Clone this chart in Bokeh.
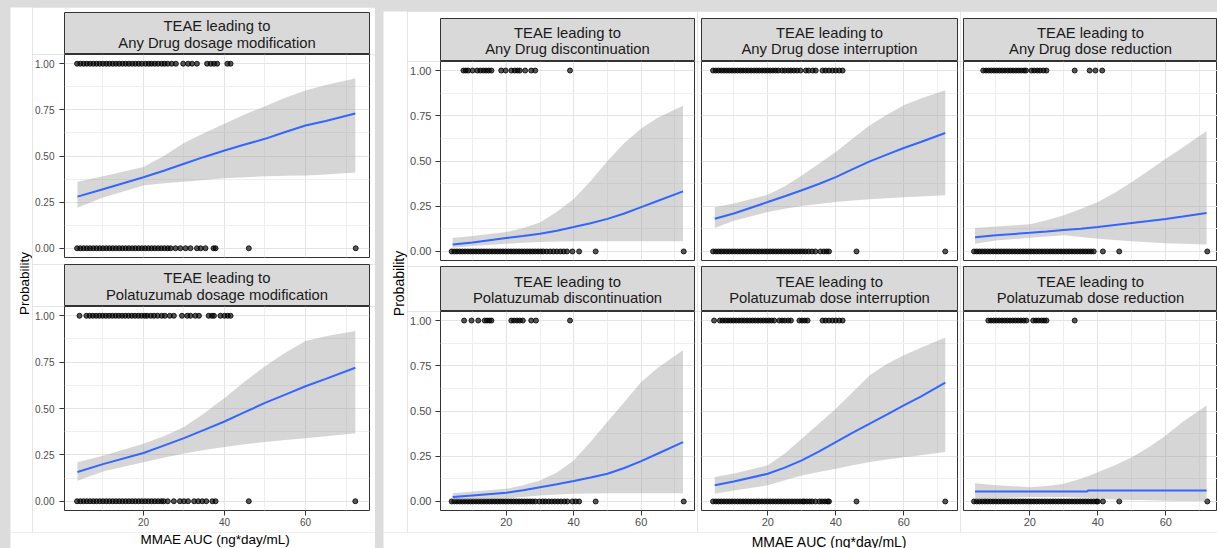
import math
from bokeh.plotting import figure
from bokeh.layouts import row, column
from bokeh.models import Range1d, FixedTicker, NumeralTickFormatter, Label, Spacer
from bokeh.embed import file_html
from bokeh.resources import INLINE

# ---------------- data ----------------
x_ticks = [20, 40, 60]
x_minor = [10, 30, 50, 70]
y_ticks = [0, 0.25, 0.5, 0.75, 1.0]
y_minor = [0.125, 0.375, 0.625, 0.875]
x_title = "MMAE AUC (ng*day/mL)"
y_title = "Probability"

# Any Drug dosage modification
any_mod_x = [3.7, 10, 20, 25, 30, 35, 40, 45, 50, 55, 60, 65, 72.3]
any_mod_fit = [0.28, 0.32, 0.385, 0.42, 0.458, 0.495, 0.53, 0.562, 0.593, 0.63, 0.665, 0.69, 0.73]
any_mod_lo = [0.22, 0.275, 0.34, 0.352, 0.36, 0.37, 0.38, 0.385, 0.39, 0.393, 0.395, 0.40, 0.41]
any_mod_hi = [0.36, 0.39, 0.44, 0.50, 0.57, 0.625, 0.675, 0.725, 0.77, 0.815, 0.855, 0.885, 0.92]
any_mod_ev = [3.6, 4.4, 5.2, 6.0, 6.8, 7.6, 8.4, 9.2, 10.0, 10.8, 11.6, 12.4, 13.2, 14.0, 14.8, 15.6, 16.4, 17.2,
              18.0, 18.8, 19.6, 20.5, 21.3, 22.0, 22.8, 23.6, 24.5, 25.2, 26.0, 27.0, 28.0, 29.8, 31.0, 32.0, 33.2,
              35.7, 36.6, 37.4, 38.2, 40.7, 41.5]
any_mod_nev = [3.6, 4.4, 5.2, 6.0, 6.8, 7.6, 8.4, 9.2, 10.0, 10.8, 11.6, 12.4, 13.2, 14.0, 14.8, 15.6, 16.4, 17.2,
               18.0, 18.8, 19.6, 20.4, 21.2, 22.0, 22.8, 23.6, 24.4, 25.2, 26.0, 26.7, 27.9, 29.1, 30.4, 31.6, 33.2,
               34.1, 35.3, 37.3, 37.8, 46.0, 72.4]

# Polatuzumab dosage modification
pola_mod_x = [3.7, 10, 20, 25, 30, 35, 40, 45, 50, 55, 60, 65, 72.3]
pola_mod_fit = [0.158, 0.20, 0.26, 0.30, 0.34, 0.385, 0.43, 0.48, 0.53, 0.575, 0.62, 0.66, 0.72]
pola_mod_lo = [0.11, 0.16, 0.21, 0.235, 0.257, 0.276, 0.293, 0.307, 0.32, 0.33, 0.339, 0.35, 0.366]
pola_mod_hi = [0.21, 0.245, 0.31, 0.35, 0.40, 0.475, 0.556, 0.645, 0.728, 0.80, 0.864, 0.89, 0.918]
pola_mod_ev = [4.2, 5.9, 6.7, 7.5, 8.3, 9.1, 9.9, 10.7, 11.5, 12.3, 13.1, 13.9, 14.7, 15.5, 16.3, 17.1, 17.9, 18.7,
               19.5, 20.3, 20.9, 21.8, 22.6, 23.5, 24.5, 25.3, 26.5, 27.5, 29.5, 30.8, 31.6, 32.8, 33.7, 36.1, 36.9,
               37.4, 39.0, 40.0, 40.8, 41.5]
pola_mod_nev = [3.6, 4.4, 5.2, 6.0, 6.8, 7.6, 8.4, 9.2, 10.0, 10.8, 11.6, 12.4, 13.2, 14.0, 14.8, 15.6, 16.4, 17.2,
                18.0, 18.8, 19.6, 20.4, 21.2, 22.0, 22.8, 23.6, 24.4, 25.0, 26.0, 27.5, 29.0, 30.0, 31.0, 32.5, 33.5,
                34.5, 35.5, 37.0, 37.8, 46.0, 72.3]

# Any Drug discontinuation
any_disc_x = [4.1, 10, 20, 25, 30, 35, 40, 45, 50, 55, 60, 65, 72.4]
any_disc_fit = [0.039, 0.05, 0.074, 0.085, 0.098, 0.115, 0.135, 0.156, 0.18, 0.21, 0.245, 0.28, 0.332]
any_disc_lo = [0.02, 0.03, 0.042, 0.048, 0.052, 0.055, 0.057, 0.057, 0.057, 0.057, 0.057, 0.057, 0.057]
any_disc_hi = [0.074, 0.085, 0.107, 0.13, 0.16, 0.22, 0.29, 0.39, 0.50, 0.60, 0.68, 0.74, 0.806]
any_disc_ev = [7.3, 8.0, 8.7, 10.0, 11.4, 12.3, 13.2, 14.0, 14.8, 15.6, 18.5, 19.8, 21.5, 22.5, 23.3, 24.0, 25.6,
               27.4, 28.6, 38.9]
any_disc_nev = [3.8, 4.6, 5.4, 6.2, 7.0, 7.8, 8.6, 9.4, 10.2, 11.0, 11.8, 12.6, 13.4, 14.2, 15.0, 15.8, 16.6, 17.4,
                18.2, 19.0, 19.8, 20.6, 21.4, 22.2, 23.0, 23.8, 24.6, 25.4, 26.2, 27.0, 27.8, 28.6, 29.4, 30.2, 31.0,
                32.0, 33.0, 34.0, 35.0, 36.0, 37.0, 38.0, 39.6, 41.6, 46.5, 72.6]

# Polatuzumab discontinuation
pola_disc_x = [4.1, 10, 20, 25, 30, 35, 40, 45, 50, 55, 60, 65, 72.4]
pola_disc_fit = [0.024, 0.033, 0.048, 0.062, 0.079, 0.095, 0.113, 0.132, 0.153, 0.185, 0.223, 0.265, 0.328]
pola_disc_lo = [0.006, 0.01, 0.015, 0.024, 0.033, 0.038, 0.042, 0.044, 0.046, 0.046, 0.046, 0.046, 0.046]
pola_disc_hi = [0.046, 0.055, 0.07, 0.09, 0.116, 0.16, 0.227, 0.33, 0.44, 0.55, 0.66, 0.74, 0.836]
pola_disc_ev = [7.5, 9.7, 11.7, 13.6, 14.3, 15.0, 15.6, 21.5, 22.3, 23.2, 24.0, 24.9, 27.4, 28.8, 38.9]
pola_disc_nev = [3.8, 4.6, 5.4, 6.2, 7.0, 7.8, 8.6, 9.4, 10.2, 11.0, 11.8, 12.6, 13.4, 14.2, 15.0, 15.8, 16.6, 17.4,
                 18.2, 19.0, 19.8, 20.6, 21.4, 22.2, 23.0, 23.8, 24.6, 25.4, 26.2, 27.0, 27.8, 28.6, 29.8, 30.8,
                 31.6, 32.6, 33.5, 34.4, 35.3, 36.2, 37.2, 38.1, 39.6, 40.6, 41.6, 46.5, 72.6]

# Any Drug dose interruption
any_int_x = [4.4, 10, 20, 25, 30, 35, 40, 45, 50, 55, 60, 65, 72.2]
any_int_fit = [0.181, 0.21, 0.273, 0.305, 0.338, 0.373, 0.411, 0.455, 0.498, 0.535, 0.572, 0.605, 0.655]
any_int_lo = [0.129, 0.17, 0.218, 0.236, 0.251, 0.263, 0.273, 0.281, 0.288, 0.294, 0.30, 0.304, 0.31]
any_int_hi = [0.245, 0.265, 0.314, 0.36, 0.42, 0.485, 0.55, 0.625, 0.697, 0.755, 0.808, 0.845, 0.891]
any_int_ev = [3.9, 4.7, 5.5, 6.3, 7.1, 7.9, 8.7, 9.5, 10.3, 11.1, 11.9, 12.7, 13.5, 14.3, 15.1, 15.9, 16.7, 17.5,
              18.3, 19.1, 19.9, 20.7, 21.5, 22.3, 23.1, 24.2, 25.0, 26.0, 26.8, 27.7, 28.6, 29.6, 31.2, 32.0, 33.2,
              34.1, 36.1, 37.0, 38.0, 39.0, 40.0, 41.0, 42.0]
any_int_nev = [3.9, 4.7, 5.5, 6.3, 7.1, 7.9, 8.7, 9.5, 10.3, 11.1, 11.9, 12.7, 13.5, 14.3, 15.1, 15.9, 16.7, 17.5,
               18.3, 19.1, 19.9, 20.7, 21.5, 22.3, 23.1, 23.9, 24.7, 25.5, 26.3, 27.1, 27.9, 28.7, 29.5, 30.3, 31.1,
               32.0, 33.0, 34.0, 35.5, 36.5, 37.3, 38.0, 46.1, 72.2]

# Polatuzumab dose interruption
pola_int_x = [4.4, 10, 20, 25, 30, 35, 40, 45, 50, 55, 60, 65, 72.2]
pola_int_fit = [0.089, 0.11, 0.153, 0.187, 0.227, 0.275, 0.328, 0.38, 0.43, 0.48, 0.531, 0.58, 0.657]
pola_int_lo = [0.042, 0.06, 0.089, 0.117, 0.144, 0.163, 0.181, 0.2, 0.218, 0.232, 0.245, 0.256, 0.273]
pola_int_hi = [0.135, 0.155, 0.2, 0.265, 0.347, 0.43, 0.513, 0.605, 0.697, 0.76, 0.808, 0.85, 0.906]
pola_int_ev = [4.2, 5.9, 6.7, 7.5, 8.3, 9.1, 9.9, 10.7, 11.5, 12.3, 13.1, 13.9, 14.7, 15.5, 16.3, 17.1, 17.9, 18.7,
               19.5, 20.3, 21.1, 21.9, 23.4, 24.2, 25.0, 26.0, 26.8, 29.3, 30.1, 30.9, 31.7, 36.1, 37.0, 38.0, 39.0,
               40.0, 41.0, 42.0]
pola_int_nev = [3.9, 4.7, 5.5, 6.3, 7.1, 7.9, 8.7, 9.5, 10.3, 11.1, 11.9, 12.7, 13.5, 14.3, 15.1, 15.9, 16.7, 17.5,
                18.3, 19.1, 19.9, 20.7, 21.5, 22.3, 23.1, 23.9, 24.7, 25.5, 26.3, 27.1, 27.9, 28.7, 29.5, 30.3, 30.7,
                31.5, 32.3, 33.0, 34.0, 35.2, 36.0, 36.8, 37.6, 38.0, 46.1, 72.2]

# Any Drug dose reduction
any_red_x = [3.9, 10, 20, 25, 30, 35, 40, 45, 50, 55, 60, 65, 72.0]
any_red_fit = [0.079, 0.09, 0.103, 0.11, 0.118, 0.126, 0.135, 0.146, 0.157, 0.168, 0.18, 0.193, 0.212]
any_red_lo = [0.042, 0.06, 0.076, 0.083, 0.089, 0.08, 0.07, 0.063, 0.057, 0.051, 0.046, 0.043, 0.039]
any_red_hi = [0.129, 0.138, 0.15, 0.172, 0.2, 0.235, 0.273, 0.325, 0.384, 0.447, 0.513, 0.575, 0.666]
any_red_ev = [6.3, 7.1, 7.9, 8.7, 9.5, 10.3, 11.1, 11.9, 12.7, 13.5, 14.3, 15.1, 15.9, 16.7, 17.5, 18.3, 18.9,
              20.5, 21.3, 22.2, 23.0, 24.0, 24.9, 33.2, 37.6, 39.3, 41.3]
any_red_nev = [3.6, 4.4, 5.2, 6.0, 6.8, 7.6, 8.4, 9.2, 10.0, 10.8, 11.6, 12.4, 13.2, 14.0, 14.8, 15.6, 16.4, 17.2,
               18.0, 18.8, 19.6, 20.4, 21.2, 22.0, 22.8, 23.6, 24.4, 25.2, 26.0, 26.8, 27.6, 28.4, 29.2, 30.0, 30.8,
               31.6, 32.4, 33.2, 34.0, 34.8, 35.6, 36.4, 37.2, 38.0, 38.8, 41.5, 46.3, 72.2]

# Polatuzumab dose reduction
pola_red_x = [3.9, 10, 20, 25, 30, 35, 36.9, 37.1, 40, 45, 50, 55, 60, 65, 72.0]
pola_red_fit = [0.055, 0.055, 0.055, 0.055, 0.055, 0.055, 0.055, 0.061, 0.061, 0.061, 0.061, 0.061, 0.061,
                0.061, 0.061]
pola_red_lo = [0.009, 0.018, 0.024, 0.024, 0.024, 0.021, 0.02, 0.02, 0.015, 0.011, 0.008, 0.006, 0.004,
               0.003, 0.002]
pola_red_hi = [0.10, 0.09, 0.079, 0.085, 0.098, 0.125, 0.14, 0.14, 0.162, 0.2, 0.245, 0.3, 0.365, 0.44, 0.53]
pola_red_ev = [7.8, 8.6, 9.4, 10.2, 11.0, 11.8, 12.6, 13.4, 14.2, 15.0, 15.8, 16.6, 17.4, 18.2, 19.0, 21.0, 21.8,
               22.6, 23.5, 24.2, 24.9, 33.2]
pola_red_nev = [3.6, 4.4, 5.2, 6.0, 6.8, 7.6, 8.4, 9.2, 10.0, 10.8, 11.6, 12.4, 13.2, 14.0, 14.8, 15.6, 16.4, 17.2,
                18.0, 18.8, 19.6, 20.4, 21.2, 22.0, 22.8, 23.6, 24.4, 25.2, 26.0, 26.8, 27.6, 28.4, 29.2, 30.0, 30.8,
                31.6, 32.4, 33.2, 34.0, 34.8, 35.6, 36.4, 37.2, 38.0, 38.8, 39.6, 40.0, 41.5, 46.3, 72.2]

# ---------------- styling ----------------
FONT = "Liberation Sans"
PAGE_BG = "#dcdcdc"
STRIP_BG = "#d9d9d9"
BORDER = "#333333"
STRIP_FS = "14.8px"


def base_fig(width, height, left, right, top, bottom, xr, yr):
    p = figure(width=width, height=height, x_range=xr, y_range=yr,
               min_border_left=left, min_border_right=right,
               min_border_top=top, min_border_bottom=bottom,
               output_backend="svg", toolbar_location=None)
    p.border_fill_color = "white"
    return p


def make_strip(width, height, left, right, top, lines):
    fh = height - top
    p = base_fig(width, height, left, right, top, 0, Range1d(0, 1), Range1d(0, fh))
    p.xaxis.visible = False
    p.yaxis.visible = False
    p.xgrid.visible = False
    p.ygrid.visible = False
    p.background_fill_color = STRIP_BG
    p.outline_line_color = BORDER
    p.outline_line_width = 1
    for txt, yy in ((lines[0], fh / 2 + 7.5), (lines[1], fh / 2 - 9.0)):
        p.add_layout(Label(x=0.5, y=yy, text=txt, text_align="center",
                           text_baseline="middle", text_font=FONT,
                           text_font_size=STRIP_FS, text_color="#1a1a1a"))
    return p


def make_plot(width, height, left, right, top, bottom, xend, data, show_x, show_y, tick_fs, ystand):
    xs, fit, lo, hi, ev, nev = data
    p = base_fig(width, height, left, right, top, bottom, Range1d(0.5, xend), Range1d(-0.05, 1.05))
    p.background_fill_color = "white"
    p.outline_line_color = BORDER
    p.outline_line_width = 1
    xt = FixedTicker(ticks=x_ticks, minor_ticks=x_minor)
    yt = FixedTicker(ticks=y_ticks, minor_ticks=y_minor)
    p.xaxis.ticker = xt
    p.yaxis.ticker = yt
    p.xgrid.ticker = xt
    p.ygrid.ticker = yt
    for g in (p.xgrid, p.ygrid):
        g.grid_line_color = "#e4e4e4"
        g.grid_line_width = 1
        g.minor_grid_line_color = "#efefef"
        g.minor_grid_line_width = 1
    for ax in (p.xaxis, p.yaxis):
        ax.axis_line_color = None
        ax.major_tick_line_color = BORDER
        ax.major_tick_out = 5
        ax.major_tick_in = 0
        ax.minor_tick_line_color = None
        ax.major_label_text_font = FONT
        ax.major_label_text_font_size = tick_fs
        ax.major_label_text_color = "#4d4d4d"
    p.xaxis.major_label_standoff = 2
    p.yaxis.major_label_standoff = ystand
    p.yaxis.formatter = NumeralTickFormatter(format="0.00")
    p.xaxis.visible = show_x
    p.yaxis.visible = show_y

    p.scatter(nev, [0] * len(nev), size=5, fill_color="black", fill_alpha=0.65,
              line_color="black", line_alpha=0.9, line_width=0.9)
    p.scatter(ev, [1] * len(ev), size=5, fill_color="black", fill_alpha=0.65,
              line_color="black", line_alpha=0.9, line_width=0.9)
    p.varea(x=xs, y1=lo, y2=hi, fill_color="#999999", fill_alpha=0.4)
    p.line(xs, fit, line_color="#3366FF", line_width=2)
    return p


def make_text_fig(width, height, x, y, text, fs, angle=0.0):
    p = base_fig(width, height, 0, 0, 0, 0, Range1d(0, width), Range1d(0, height))
    p.xaxis.visible = False
    p.yaxis.visible = False
    p.xgrid.visible = False
    p.ygrid.visible = False
    p.outline_line_color = None
    p.background_fill_color = "white"
    p.add_layout(Label(x=x, y=y, text=text, angle=angle, text_align="center",
                       text_baseline="middle", text_font=FONT, text_font_size=fs,
                       text_color="black"))
    return p


# ---------------- left panel (x 10..375) ----------------
LW, LL, LR = 343, 31, 6
l_strip1 = make_strip(LW, 47, LL, LR, 5, ["TEAE leading to", "Any Drug dosage modification"])
l_plot1 = make_plot(LW, 210, LL, LR, 0, 7, 75.8,
                    (any_mod_x, any_mod_fit, any_mod_lo, any_mod_hi, any_mod_ev, any_mod_nev),
                    False, True, "10px", 5)
l_strip2 = make_strip(LW, 42, LL, LR, 0, ["TEAE leading to", "Polatuzumab dosage modification"])
l_plot2 = make_plot(LW, 226, LL, LR, 0, 22, 75.8,
                    (pola_mod_x, pola_mod_fit, pola_mod_lo, pola_mod_hi, pola_mod_ev, pola_mod_nev),
                    True, True, "10px", 5)
l_ylab = make_text_fig(22, 525, 14, 249, y_title, "13.5px", angle=math.pi / 2)
l_xlab = make_text_fig(365, 16, 205, 9, x_title, "13.5px")
left_panel = column(Spacer(width=365, height=7),
                    row(l_ylab, column(l_strip1, l_plot1, l_strip2, l_plot2)),
                    l_xlab)

# ---------------- right panel (x 383..1217) ----------------
cols_spec = [
    (290, 31, 3, 75.8, True,
     ["TEAE leading to", "Any Drug discontinuation"],
     (any_disc_x, any_disc_fit, any_disc_lo, any_disc_hi, any_disc_ev, any_disc_nev),
     ["TEAE leading to", "Polatuzumab discontinuation"],
     (pola_disc_x, pola_disc_fit, pola_disc_lo, pola_disc_hi, pola_disc_ev, pola_disc_nev)),
    (263, 4, 3, 75.8, False,
     ["TEAE leading to", "Any Drug dose interruption"],
     (any_int_x, any_int_fit, any_int_lo, any_int_hi, any_int_ev, any_int_nev),
     ["TEAE leading to", "Polatuzumab dose interruption"],
     (pola_int_x, pola_int_fit, pola_int_lo, pola_int_hi, pola_int_ev, pola_int_nev)),
    (257, 3, 0, 75.2, False,
     ["TEAE leading to", "Any Drug dose reduction"],
     (any_red_x, any_red_fit, any_red_lo, any_red_hi, any_red_ev, any_red_nev),
     ["TEAE leading to", "Polatuzumab dose reduction"],
     (pola_red_x, pola_red_fit, pola_red_lo, pola_red_hi, pola_red_ev, pola_red_nev)),
]
right_cols = []
for (w, bl, br, xend, showy, t1, d1, t2, d2) in cols_spec:
    s1 = make_strip(w, 50, bl, br, 7, t1)
    p1 = make_plot(w, 205, bl, br, 0, 6, xend, d1, False, showy, "11px", 4)
    s2 = make_strip(w, 45, bl, br, 0, t2)
    p2 = make_plot(w, 221, bl, br, 0, 22, xend, d2, True, showy, "11px", 4)
    right_cols.append(column(s1, p1, s2, p2))

r_ylab = make_text_fig(24, 521, 15, 249, y_title, "14px", angle=math.pi / 2)
r_xlab = make_text_fig(834, 16, 446, 7, x_title, "14px")
right_panel = column(Spacer(width=834, height=11), row(r_ylab, *right_cols), r_xlab)

root = row(Spacer(width=10, height=548), left_panel, Spacer(width=8, height=548), right_panel,
           styles={"background-color": PAGE_BG})

open("out.html", "w").write(file_html(root, INLINE))
